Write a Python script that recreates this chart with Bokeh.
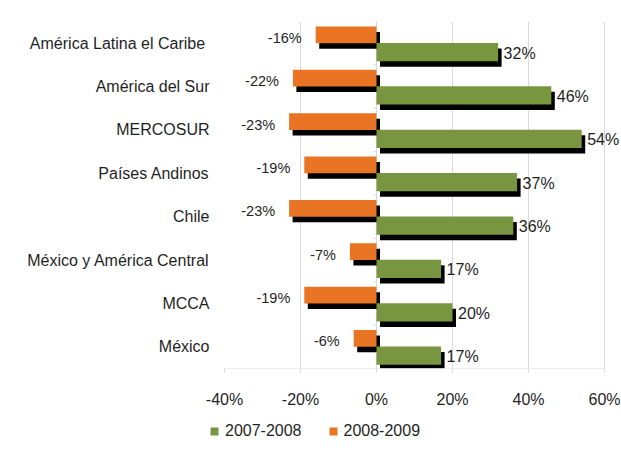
from bokeh.plotting import figure
from bokeh.layouts import column
from bokeh.models import (ColumnDataSource, FactorRange, Range1d, NumeralTickFormatter,
                          FixedTicker, Legend, LegendItem)
from bokeh.transform import dodge
from bokeh.core.properties import value
from bokeh.embed import file_html
from bokeh.resources import INLINE

# ---------------- data ----------------
categories = ["América Latina  el Caribe", "América del Sur", "MERCOSUR", "Países Andinos",
              "Chile", "México y América Central", "MCCA", "México"]
series_2007_2008 = [0.32, 0.46, 0.54, 0.37, 0.36, 0.17, 0.20, 0.17]
series_2008_2009 = [-0.16, -0.22, -0.23, -0.19, -0.23, -0.07, -0.19, -0.06]
series_names = ["2007-2008", "2008-2009"]
x_ticks = [-0.4, -0.2, 0.0, 0.2, 0.4, 0.6]

# ---------------- style ----------------
GREEN = "#77963F"
ORANGE = "#E87424"
TEXT = "#1f1f1f"
GRID = "#d9d9d9"
FONT = "Liberation Sans"
W, H, H_LEG = 621, 412, 42
B_LEFT, B_RIGHT, B_TOP, B_BOTTOM = 224, 0, 21, 44
PX_PER_UNIT = 380.0
X0 = -0.4
X1 = X0 + (W - B_LEFT - B_RIGHT) / PX_PER_UNIT
SH_DX = 3.5 / PX_PER_UNIT      # shadow shift: 3.5 px right
SH_DY = -0.127                 # shadow shift: ~5.5 px down (category units)
TICK_LEN = 3.0 / PX_PER_UNIT   # category tick marks on the 0 line
ORANGE_POS, ORANGE_H = 0.193, 0.385
GREEN_POS, GREEN_H = -0.205, 0.42

zeros = [0.0] * len(categories)
src = ColumnDataSource(dict(
    cat=categories,
    g=series_2007_2008,
    o=series_2008_2009,
    zero=zeros,
    tick_l=[0.0 - TICK_LEN for _ in categories],
    g_sh_l=[0.0 + SH_DX for _ in series_2007_2008],
    g_sh_r=[v + SH_DX for v in series_2007_2008],
    o_sh_l=[v + SH_DX for v in series_2008_2009],
    o_sh_r=[0.0 + SH_DX for _ in series_2008_2009],
    g_lbl=["%d%%" % round(v * 100) for v in series_2007_2008],
    o_lbl=["%d%%" % round(v * 100) for v in series_2008_2009],
))
axis_src = ColumnDataSource(dict(x0=[x_ticks[0]], x1=[x_ticks[-1]], y=[categories[-1]]))

p = figure(width=W, height=H, output_backend="svg", toolbar_location=None,
           y_range=FactorRange(factors=list(reversed(categories))),
           x_range=Range1d(X0, X1),
           min_border_left=B_LEFT, min_border_right=B_RIGHT,
           min_border_top=B_TOP, min_border_bottom=B_BOTTOM)
p.outline_line_color = None
p.background_fill_color = "white"
p.border_fill_color = "white"

# category tick marks at the 0 line
p.segment(x0="tick_l", x1="zero", y0=dodge("cat", 0.5, range=p.y_range),
          y1=dodge("cat", 0.5, range=p.y_range), source=src, line_color=GRID, line_width=1)

# shadows
p.hbar(y=dodge("cat", ORANGE_POS + SH_DY, range=p.y_range), left="o_sh_l", right="o_sh_r",
       height=ORANGE_H, source=src, fill_color="black", line_color=None)
p.hbar(y=dodge("cat", GREEN_POS + SH_DY, range=p.y_range), left="g_sh_l", right="g_sh_r",
       height=GREEN_H, source=src, fill_color="black", line_color=None)
# bars
p.hbar(y=dodge("cat", ORANGE_POS, range=p.y_range), left="o", right="zero",
       height=ORANGE_H, source=src, fill_color=ORANGE, line_color=None)
p.hbar(y=dodge("cat", GREEN_POS, range=p.y_range), left="zero", right="g",
       height=GREEN_H, source=src, fill_color=GREEN, line_color=None)

# data labels
p.text(x="o", y=dodge("cat", ORANGE_POS, range=p.y_range), text="o_lbl", source=src,
       text_align="right", text_baseline="middle", x_offset=-14, y_offset=3,
       text_font=value(FONT), text_font_size="14.5px", text_color=TEXT)
p.text(x="g", y=dodge("cat", GREEN_POS, range=p.y_range), text="g_lbl", source=src,
       text_align="left", text_baseline="middle", x_offset=5.5, y_offset=1,
       text_font=value(FONT), text_font_size="16px", text_color=TEXT)

# bottom axis line (only across the tick span)
p.segment(x0="x0", x1="x1", y0=dodge("y", -0.5, range=p.y_range),
          y1=dodge("y", -0.5, range=p.y_range), source=axis_src, line_color=GRID, line_width=1)

# axes
p.xaxis.ticker = FixedTicker(ticks=x_ticks)
p.xaxis.formatter = NumeralTickFormatter(format="0%")
p.xaxis.axis_line_color = None
p.xaxis.major_tick_line_color = GRID
p.xaxis.major_tick_out = 4
p.xaxis.major_tick_in = 0
p.xaxis.minor_tick_line_color = None
p.xaxis.major_label_standoff = 18
p.xaxis.major_label_text_font = FONT
p.xaxis.major_label_text_font_size = "16px"
p.xaxis.major_label_text_color = TEXT

p.yaxis.axis_line_color = None
p.yaxis.major_tick_line_color = None
p.yaxis.minor_tick_line_color = None
p.yaxis.major_tick_out = 0
p.yaxis.major_tick_in = 0
p.yaxis.major_label_standoff = 15
p.yaxis.major_label_text_font = FONT
p.yaxis.major_label_text_font_size = "16px"
p.yaxis.major_label_text_color = TEXT

p.xgrid.ticker = FixedTicker(ticks=x_ticks)
p.xgrid.grid_line_color = GRID
p.ygrid.grid_line_color = None

# ---------------- legend strip ----------------
pl = figure(width=W, height=H_LEG, output_backend="svg", toolbar_location=None,
            x_range=Range1d(0, 1), y_range=Range1d(0, 1),
            min_border_left=0, min_border_right=0, min_border_top=0, min_border_bottom=0)
pl.axis.visible = False
pl.grid.visible = False
pl.outline_line_color = None
for fig in (p, pl):
    try:
        fig.frame_align = False
    except Exception:
        pass
# swatch renderers (kept outside the visible range; only their legend swatches show)
swatch = ColumnDataSource(dict(y=[5.0], l=[0.0], r=[0.0]))
lg_g = pl.hbar(y="y", left="l", right="r", height=0.5, source=swatch,
               fill_color=GREEN, line_color=None)
lg_o = pl.hbar(y="y", left="l", right="r", height=0.5, source=swatch,
               fill_color=ORANGE, line_color=None)
legend = Legend(items=[LegendItem(label=series_names[0], renderers=[lg_g]),
                       LegendItem(label=series_names[1], renderers=[lg_o])],
                orientation="horizontal", location=(209, 14),
                glyph_width=10, glyph_height=10, label_standoff=6, spacing=26,
                padding=0, margin=0, border_line_color=None, background_fill_alpha=0,
                label_text_font=FONT, label_text_font_size="16px", label_text_color=TEXT)
pl.add_layout(legend, "center")

layout = column(p, pl, spacing=0)
open("out.html", "w").write(file_html(layout, INLINE))
